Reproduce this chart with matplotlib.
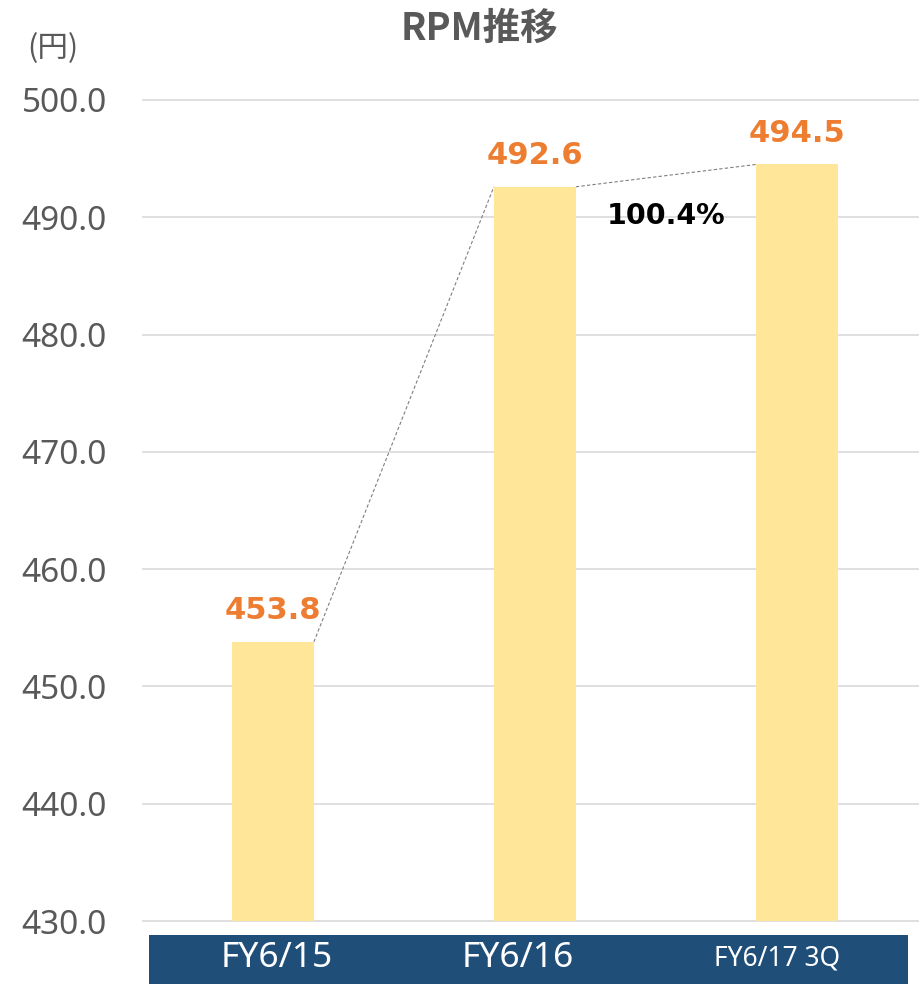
import matplotlib
matplotlib.use("Agg")
import matplotlib.pyplot as plt
from matplotlib.patches import Rectangle

# データ
categories = ["FY6/15", "FY6/16", "FY6/17 3Q"]
rpm = [453.8, 492.6, 494.5]
yticks = [430, 440, 450, 460, 470, 480, 490, 500]

cor_barra = "#FFE699"
cor_rotulo = "#ED7D31"
cor_texto = "#595959"
cor_grade = "#D9D9D9"
cor_faixa = "#1F4E79"

fig = plt.figure(figsize=(9.2, 9.84), dpi=100)
ax = fig.add_axes([0.1554, 0.064, 0.8446, 0.8344])

x = list(range(len(categories)))
w = 0.313
ax.bar(x, rpm, width=w, color=cor_barra, zorder=2)

ax.set_xlim(-0.496, 2.47)
ax.set_ylim(430, 500)
for t in yticks:
    ax.axhline(t, color=cor_grade, linewidth=1.2, zorder=0, clip_on=False)

ax.set_yticks(yticks)
ax.set_yticklabels([f"{t:.1f}" for t in yticks], fontsize=24, color=cor_texto,
                   family="Noto Sans")
ax.tick_params(axis="y", length=0, pad=26)
ax.set_xticks([])
for s in ax.spines.values():
    s.set_visible(False)

# rótulos de valor
for xi, v in zip(x, rpm):
    ax.annotate(f"{v:.1f}", (xi, v), xytext=(0, 12), textcoords="offset points",
                ha="center", va="bottom", fontsize=22, fontweight="bold",
                color=cor_rotulo, family="DejaVu Sans")

# linhas tracejadas entre barras
for i in range(len(rpm) - 1):
    ax.plot([x[i] + w / 2, x[i + 1] - w / 2], [rpm[i], rpm[i + 1]],
            linestyle=(0, (3, 2)), color="#7F7F7F", linewidth=0.8, zorder=3)

ratio = rpm[2] / rpm[1] * 100
ax.text(1.5, 490.1, f"{ratio:.1f}%", ha="center", va="center", fontsize=20.5,
        fontweight="bold", color="black", family="DejaVu Sans")

# título e unidade
fig.text(0.521, 0.971, "RPM推移", ha="center", va="center", fontsize=27,
         fontweight="bold", color=cor_texto, family=["Noto Sans CJK JP", "DejaVu Sans"])
fig.text(0.058, 0.951, "(円)", ha="center", va="center", fontsize=22,
         color=cor_texto, family=["Noto Sans CJK JP", "DejaVu Sans"])

# faixa azul das categorias (tabela separada do gráfico)
fig.patches.append(Rectangle((149 / 920, 0), (908 - 149) / 920, 49 / 984,
                             transform=fig.transFigure, facecolor=cor_faixa,
                             edgecolor="none", zorder=-1))
pos_faixa = [0.301, 0.563, 0.845]
tamanhos = [25.5, 25.5, 19]
for px, cat, tam in zip(pos_faixa, categories, tamanhos):
    fig.text(px, 0.0262, cat, ha="center", va="center",
             fontsize=tam, color="white", family="Noto Sans")

fig.savefig("out.png", dpi=100)
